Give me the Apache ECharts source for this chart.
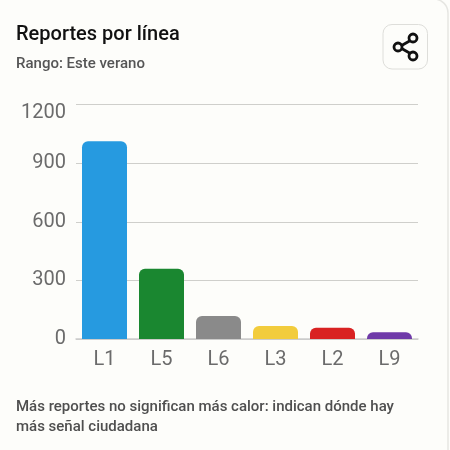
<!DOCTYPE html>
<html lang="es">
<head>
<meta charset="UTF-8">
<title>Reportes por línea</title>
<style>
    html, body { margin: 0; padding: 0; background: #fdfdfa; }
    #chart { width: 450px; height: 450px; }
</style>
<script src="https://cdn.jsdelivr.net/npm/echarts@6/dist/echarts.min.js"></script>
</head>
<body>
<div id="chart"></div>
<script>
    var lineas = ['L1', 'L5', 'L6', 'L3', 'L2', 'L9'];
    var reportes = [1012, 360, 118, 66, 58, 35];
    var colores = ['#269ae0', '#1a8730', '#8a8a8a', '#f2cc3c', '#d92222', '#6f3aa8'];
    var ticksY = [0, 300, 600, 900, 1200];

    var chart = echarts.init(document.getElementById('chart'));

    var option = {
        animation: false,
        backgroundColor: '#fdfdfa',
        textStyle: { fontFamily: 'Roboto' },
        title: [
            {
                text: 'Reportes por línea',
                left: 16, top: 25, padding: 0,
                textStyle: { fontFamily: 'Roboto', fontSize: 20, fontWeight: 500, color: '#111111' }
            },
            {
                text: 'Rango: Este verano',
                left: 16, top: 57, padding: 0,
                textStyle: { fontFamily: 'Roboto', fontSize: 15, fontWeight: 500, color: '#555555' }
            },
            {
                text: 'Más reportes no significan más calor: indican dónde hay\nmás señal ciudadana',
                left: 16, top: 397, padding: 0,
                textStyle: { fontFamily: 'Roboto', fontSize: 15, fontWeight: 500, color: '#4f4f4f', lineHeight: 20 }
            }
        ],
        grid: { left: 76, right: 32, top: 104.5, bottom: 111, containLabel: false },
        xAxis: {
            type: 'category',
            data: lineas,
            axisLine: { show: true, lineStyle: { color: '#cccccc', width: 1.5 } },
            axisTick: { show: false },
            axisLabel: { color: '#6b6b6b', fontSize: 20, margin: 11 }
        },
        yAxis: {
            type: 'value',
            min: 0,
            max: 1200,
            interval: ticksY[1] - ticksY[0],
            axisLine: { show: false },
            axisTick: { show: false },
            axisLabel: {
                color: '#6b6b6b',
                fontSize: 20,
                margin: 10,
                lineHeight: 10,
                padding: [3, 0, 0, 0],
                verticalAlignMaxLabel: 'top',
                formatter: function (v) { return String(v); }
            },
            splitLine: { lineStyle: { color: '#cfcfcb', width: 1 } }
        },
        series: [{
            type: 'bar',
            data: reportes.map(function (v, i) {
                return { value: v, itemStyle: { color: colores[i] } };
            }),
            barWidth: 45,
            itemStyle: { borderRadius: [6, 6, 0, 0] }
        }],
        graphic: [
            // borde de la tarjeta
            {
                type: 'rect', z: -1, silent: true,
                shape: { x: -20, y: -1, width: 468, height: 470, r: 14 },
                style: { fill: 'transparent', stroke: '#e6e6e2', lineWidth: 1.5 }
            },
            // boton de compartir
            {
                type: 'rect', silent: true,
                shape: { x: 383, y: 24.5, width: 44.5, height: 44.5, r: 9 },
                style: { fill: '#fdfdfa', stroke: '#dededa', lineWidth: 1 }
            },
            {
                type: 'polyline', silent: true,
                shape: { points: [[413, 39], [399, 47], [413, 55]] },
                style: { fill: null, stroke: '#111111', lineWidth: 2.8 }
            },
            { type: 'circle', silent: true, shape: { cx: 413, cy: 38, r: 4 }, style: { fill: '#fdfdfa', stroke: '#111111', lineWidth: 2.8 } },
            { type: 'circle', silent: true, shape: { cx: 398, cy: 47, r: 4 }, style: { fill: '#fdfdfa', stroke: '#111111', lineWidth: 2.8 } },
            { type: 'circle', silent: true, shape: { cx: 413, cy: 56, r: 4 }, style: { fill: '#fdfdfa', stroke: '#111111', lineWidth: 2.8 } }
        ]
    };

    chart.setOption(option);
</script>
</body>
</html>
